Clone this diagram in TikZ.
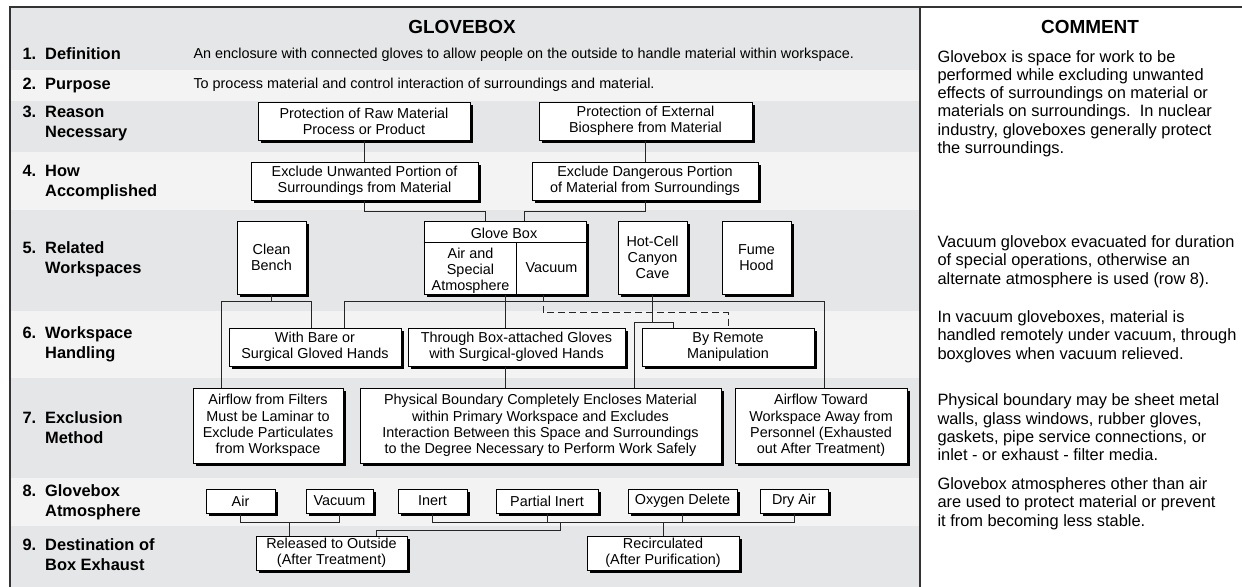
\documentclass[tikz,border=0pt]{standalone}
\usepackage{fontspec}
\setmainfont{Liberation Sans}
\usetikzlibrary{shadows,calc}

\definecolor{bandgray}{RGB}{229,230,231}
\definecolor{bandlight}{RGB}{243,243,244}
\definecolor{framegray}{RGB}{51,51,51}

\tikzset{
	wbox/.style={draw, fill=white, inner sep=0pt, align=center,
		font=\fontsize{10.8}{12.2}\selectfont,
		drop shadow={shadow xshift=2.2pt, shadow yshift=-2.2pt, fill=black, opacity=1}},
	boxdim/.style 2 args={minimum width=#1*0.75pt, minimum height=#2*0.75pt},
	boxtxt/.style={inner sep=0pt, align=center, font=\fontsize{10.8}{12.2}\selectfont},
	rowlab/.style={anchor=west, inner sep=0pt, font=\fontsize{12.3}{15}\selectfont\bfseries},
	rowtxt/.style={anchor=west, inner sep=0pt, font=\fontsize{10.8}{12.2}\selectfont},
	headtxt/.style={inner sep=0pt, font=\fontsize{14.2}{16}\selectfont\bfseries},
	cmttxt/.style={anchor=west, inner sep=0pt, align=left, font=\fontsize{12.3}{13.7}\selectfont},
	link/.style={draw=black!85},
	vaclink/.style={draw=black!85, dash pattern=on 5.25pt off 3pt}}
\tikzset{every picture/.style={line width=0.75pt}}

\begin{document}
\begin{tikzpicture}[x=0.75pt,y=0.75pt,yscale=-1,xscale=1]
	\useasboundingbox (0,0) rectangle (1242,586);

	%Shape: Rectangle (row bands)
	\fill [bandgray] (10,7) rectangle (920,70);
	\fill [bandlight] (10,70) rectangle (920,101);
	\fill [bandgray] (10,101) rectangle (920,152);
	\fill [bandlight] (10,152) rectangle (920,210);
	\fill [bandgray] (10,210) rectangle (920,311);
	\fill [bandlight] (10,311) rectangle (920,378);
	\fill [bandgray] (10,378) rectangle (920,478);
	\fill [bandlight] (10,478) rectangle (920,526);
	\fill [bandgray] (10,526) rectangle (920,588);
	%Straight Lines (frame)
	\draw [framegray, line width=2pt] (10,590) -- (10,7) -- (1246,7) ;
	\draw [framegray, line width=2pt] (920,7) -- (920,590) ;

	%Text Node (headings)
	\node [headtxt] (ttlmain) at (462,27) {GLOVEBOX};
	\node [headtxt] (ttlcmt) at (1090,27) {COMMENT};

	%Text Node (row labels)
	\node [rowlab] (lab1) at (22,55) {\begin{tabular}{@{}p{17pt}@{}l@{}}1.&Definition\end{tabular}};
	\node [rowlab] (lab2) at (22,85) {\begin{tabular}{@{}p{17pt}@{}l@{}}2.&Purpose\end{tabular}};
	\node [rowlab] (lab3) at (22,123.5) {\begin{tabular}{@{}p{17pt}@{}l@{}}3.&Reason\\&Necessary\end{tabular}};
	\node [rowlab] (lab4) at (22,182) {\begin{tabular}{@{}p{17pt}@{}l@{}}4.&How\\&Accomplished\end{tabular}};
	\node [rowlab] (lab5) at (22,259.5) {\begin{tabular}{@{}p{17pt}@{}l@{}}5.&Related\\&Workspaces\end{tabular}};
	\node [rowlab] (lab6) at (22,344.5) {\begin{tabular}{@{}p{17pt}@{}l@{}}6.&Workspace\\&Handling\end{tabular}};
	\node [rowlab] (lab7) at (22,429) {\begin{tabular}{@{}p{17pt}@{}l@{}}7.&Exclusion\\&Method\end{tabular}};
	\node [rowlab] (lab8) at (22,502.5) {\begin{tabular}{@{}p{17pt}@{}l@{}}8.&Glovebox\\&Atmosphere\end{tabular}};
	\node [rowlab] (lab9) at (22,556.5) {\begin{tabular}{@{}p{17pt}@{}l@{}}9.&Destination of\\&Box Exhaust\end{tabular}};

	%Text Node (rows 1 and 2)
	\node [rowtxt] (defn) at (193,55) {An enclosure with connected gloves to allow people on the outside to handle material within workspace.};
	\node [rowtxt] (purp) at (193,85) {To process material and control interaction of surroundings and material.};

	%Shape: Rectangle (rows 3 and 4)
	\node [wbox, boxdim={212}{38}] (raw) at (364,121) {Protection of Raw Material\\Process or Product};
	\node [wbox, boxdim={213}{38}] (ext) at (645.5,121) {Protection of External\\Biosphere from Material};
	\node [wbox, boxdim={227}{38}] (unw) at (364.5,181) {Exclude Unwanted Portion of\\Surroundings from Material};
	\node [wbox, boxdim={226}{38}] (dng) at (645,181) {Exclude Dangerous Portion\\of Material from Surroundings};
	%Shape: Rectangle (row 5)
	\node [wbox, boxdim={69}{73}] (bench) at (271.5,257.5) {Clean\\Bench};
	\node [wbox, boxdim={162}{73}] (gbox) at (505,257.5) {};
	\node [wbox, boxdim={69}{73}] (hotcell) at (652.5,257.5) {Hot-Cell\\Canyon\\Cave};
	\node [wbox, boxdim={69}{73}] (fume) at (756.5,257.5) {Fume\\Hood};
	\draw ($(gbox.north west)+(0,22)$) -- ($(gbox.north east)+(0,22)$) ;
	\draw ($(gbox.north west)+(93,22)$) -- ($(gbox.south west)+(93,0)$) ;
	\node [boxtxt] (gboxttl) at (504,233) {Glove Box};
	\node [boxtxt] (gboxair) at (470.5,271) {Air and\\Special\\Atmosphere};
	\node [boxtxt] (gboxvac) at (551.5,268) {Vacuum};
	%Shape: Rectangle (row 6)
	\node [wbox, boxdim={172}{38}] (bare) at (315,347) {With Bare or\\Surgical Gloved Hands};
	\node [wbox, boxdim={217}{38}] (through) at (516.5,347) {Through Box-attached Gloves\\with Surgical-gloved Hands};
	\node [wbox, boxdim={172}{38}] (remote) at (728,347) {By Remote\\Manipulation};
	%Shape: Rectangle (row 7)
	\node [wbox, boxdim={150}{75}] (filt) at (268,425.5) {Airflow from Filters\\Must be Laminar to\\Exclude Particulates\\from Workspace};
	\node [wbox, boxdim={361}{75}] (phys) at (540.5,425.5) {Physical Boundary Completely Encloses Material\\within Primary Workspace and Excludes\\Interaction Between this Space and Surroundings\\to the Degree Necessary to Perform Work Safely};
	\node [wbox, boxdim={172}{75}] (toward) at (821,425.5) {Airflow Toward\\Workspace Away from\\Personnel (Exhausted\\out After Treatment)};
	%Shape: Rectangle (row 8)
	\node [wbox, boxdim={69}{24}] (air) at (240.5,501) {Air};
	\node [wbox, boxdim={67}{24}] (vac) at (339.5,501) {Vacuum};
	\node [wbox, boxdim={69}{24}] (inert) at (432.5,501) {Inert};
	\node [wbox, boxdim={102}{24}] (partial) at (547,501) {Partial Inert};
	\node [wbox, boxdim={109}{24}] (oxygen) at (682.5,501) {Oxygen Delete};
	\node [wbox, boxdim={68}{24}] (dry) at (794,501) {Dry Air};
	%Shape: Rectangle (row 9)
	\node [wbox, boxdim={151}{34}] (released) at (331.5,553) {Released to Outside\\(After Treatment)};
	\node [wbox, boxdim={152}{34}] (recirc) at (663,553) {Recirculated\\(After Purification)};

	%Straight Lines (rows 3 to 5)
	\draw [link] (raw.south) -- (raw.south |- unw.north) ;
	\draw [link] (ext.south) -- (ext.south |- dng.north) ;
	\draw [link] (unw.south) -- ++(0,11) -| ($(gbox.north)+(-20,0)$) ;
	\draw [link] (dng.south) -- ++(0,11) -| ($(gbox.north)+(19,0)$) ;
	%Straight Lines (rows 5 to 7)
	\coordinate (cbL) at (221,301);
	\coordinate (cbR) at (311,301);
	\coordinate (gbL) at (344,301);
	\coordinate (gbR) at (824,301);
	\coordinate (hcL) at (634,322);
	\coordinate (hcR) at (673,322);
	\draw [link] (bench.south) -- (bench.south |- cbL) ;
	\draw [link] (filt.north -| cbL) |- (cbR) -- (bare.north -| cbR) ;
	\draw [link] (gbox.south) -- (through.north -| gbox.south) ;
	\draw [link] (through.south -| gbox.south) -- (phys.north -| gbox.south) ;
	\draw [link] (bare.north -| gbL) |- (gbR) -- (toward.north -| gbR) ;
	\draw [vaclink] ($(gbox.south)+(38,0)$) -- ++(0,18) -| (remote.north) ;
	\draw [link] (hotcell.south) -- (hotcell.south |- hcL) ;
	\draw [link] (phys.north -| hcL) |- (hcR) -- (remote.north -| hcR) ;
	%Straight Lines (rows 8 to 9)
	\coordinate (relA) at (289,522);
	\coordinate (relB) at (560,522);
	\coordinate (relC) at (376,530);
	\draw [link] (air.south) -- ++(0,9) -| (vac.south) ;
	\draw [link] (relA) -- (released.north -| relA) ;
	\draw [link] (inert.south) -- ++(0,9) -| (dry.south) ;
	\draw [link] (partial.south) -- ++(0,9) ;
	\draw [link] (oxygen.south) -- ++(0,9) ;
	\draw [link] (relB) |- (relC) -- (released.north -| relC) ;
	\draw [link] (recirc.north |- relB) -- (recirc.north) ;

	%Text Node (comments)
	\node [cmttxt] (cmt1) at (937,103.5) {Glovebox is space for work to be\\performed while excluding unwanted\\effects of surroundings on material or\\materials on surroundings.\ \ In nuclear\\industry, gloveboxes generally protect\\the surroundings.};
	\node [cmttxt] (cmt5) at (937,261.5) {Vacuum glovebox evacuated for duration\\of special operations, otherwise an\\alternate atmosphere is used (row 8).};
	\node [cmttxt] (cmt6) at (937,336.5) {In vacuum gloveboxes, material is\\handled remotely under vacuum, through\\boxgloves when vacuum relieved.};
	\node [cmttxt] (cmt7) at (937,427.5) {Physical boundary may be sheet metal\\walls, glass windows, rubber gloves,\\gaskets, pipe service connections, or\\inlet - or exhaust - filter media.};
	\node [cmttxt] (cmt8) at (937,503.5) {Glovebox atmospheres other than air\\are used to protect material or prevent\\it from becoming less stable.};

\end{tikzpicture}
\end{document}
